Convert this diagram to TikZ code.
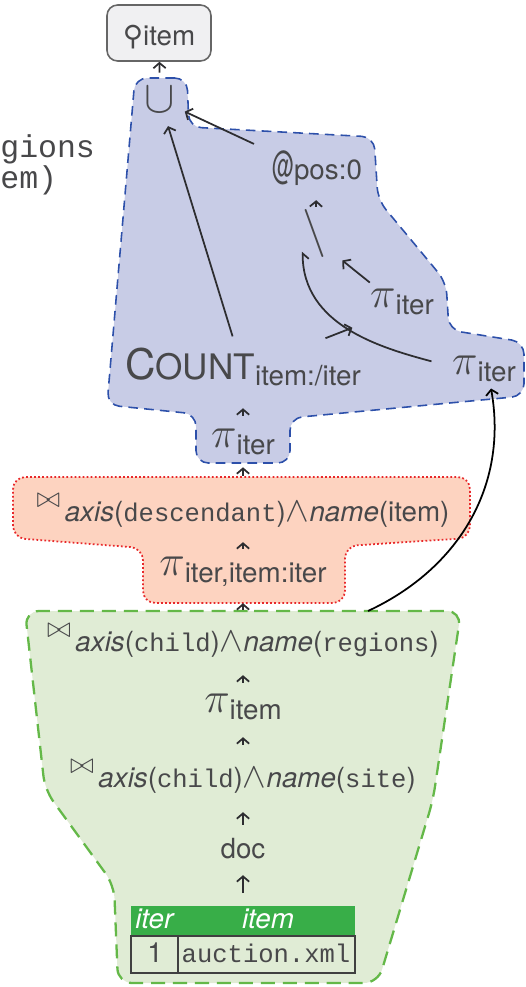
\documentclass[tikz,border=0pt]{standalone}
\usepackage{fontspec}
\setmainfont{TeX Gyre Heros}
\setmonofont{Liberation Mono}[Scale=0.92]
\newfontfamily\symfont{DejaVu Sans}
\usetikzlibrary{arrows.meta}
\definecolor{txtgray}{RGB}{72,72,74}
\definecolor{arrgray}{RGB}{45,45,48}
\definecolor{bluefill}{RGB}{200,204,230}
\definecolor{blueline}{RGB}{45,80,170}
\definecolor{redfill}{RGB}{253,211,192}
\definecolor{redline}{RGB}{232,40,42}
\definecolor{greenfill}{RGB}{224,236,213}
\definecolor{greenline}{RGB}{100,184,72}
\definecolor{tabgreen}{RGB}{56,174,72}
\definecolor{boxfill}{RGB}{240,240,242}

\newcommand{\proj}[1]{\raisebox{4pt}{\scalebox{1.7}{$\pi$}}#1}
\newcommand{\bowjoin}{\raisebox{8.5pt}{\scalebox{1.15}{$\bowtie$}}\,}
\newcommand{\band}{\scalebox{1.4}{$\wedge$}}
\newcommand{\serial}{{\symfont ⚲}}

\begin{document}
\begin{tikzpicture}[x=0.02cm, y=0.02cm,
	every node/.style={text=txtgray, font=\fontsize{15.8}{18}\selectfont,
		inner sep=0pt, text height=11pt, text depth=3.5pt},
	arr/.style={-{Straight Barb[length=3pt, width=7pt]}, line width=1pt, draw=arrgray},
	serbox/.style={draw=black!60, fill=boxfill, rounded corners=6pt, line width=0.9pt,
		minimum width=2.08cm, minimum height=1.12cm, text height=14pt, text depth=0pt}]
	\useasboundingbox (0,0) rectangle (525,-987);

	% regions
	\draw[blueline, fill=bluefill, line width=0.9pt, dash pattern=on 5.5pt off 3.5pt, rounded corners=7pt]
		(160,-78) -- (187,-78) -- (189,-127) -- (374,-137) -- (378,-200) -- (446,-282)
		-- (449,-330) -- (524,-342) -- (524,-396) -- (290,-418) -- (290,-463) -- (196,-463)
		-- (196,-414) -- (107,-405) -- (135,-78) -- cycle;
	\draw[redline, fill=redfill, line width=1pt, dash pattern=on 1pt off 1.3pt, rounded corners=7pt]
		(240,-477) -- (470,-477) -- (470,-538) -- (345,-546) -- (345,-603) -- (143,-603)
		-- (143,-548) -- (13,-538) -- (13,-477) -- cycle;
	\draw[greenline, fill=greenfill, line width=1.3pt, dash pattern=on 8pt off 4.5pt, rounded corners=8pt]
		(240,-611) -- (461,-611) -- (433,-800) -- (378,-983) -- (118,-983) -- (114,-885)
		-- (45,-790) -- (25,-611) -- cycle;

	% stray text on the left
	\node[anchor=base west, font=\fontsize{19.5}{20}\ttfamily] (lt1) at (0,-157) {gions};
	\node[anchor=base west, font=\fontsize{19.5}{20}\ttfamily] (lt2) at (0,-188) {em)};

	% blue part
	\node[serbox] (ser) at (159,-33) {\serial item};
	\node[circle, minimum size=1.08cm, text height=, text depth=] (cup) at (160,-100) {\scalebox{1.8}{$\cup$}};
	\node (attach) at (317,-173.4) {\raisebox{0.5pt}{\scalebox{0.95}[1.7]{\fontsize{13}{13}\selectfont @}}pos:0};
	\node (diff) at (315,-238.5) {\scalebox{1.9}{$\setminus$}};
	\node (mpi) at (402,-308.4) {\proj{iter}};
	\node (rpi) at (484,-375.4) {\proj{iter}};
	\node[text height=16pt, text depth=5pt] (count) at (243,-370.3)
		{{\fontsize{24}{24}\selectfont C}{\fontsize{20}{20}\selectfont OUNT}\raisebox{-3pt}{item:/iter}};
	\node (bpi) at (243,-448.4) {\proj{iter}};

	% red part
	\node (djoin) at (243,-515.4) {\bowjoin\textit{axis}(\texttt{descendant})\band\textit{name}(item)};
	\node (rpi2) at (243,-576.4) {\proj{iter,item:iter}};

	% green part
	\node (cjoin) at (243,-645.4) {\bowjoin\textit{axis}(\texttt{child})\band\textit{name}(\texttt{regions})};
	\node (ipi) at (243,-713.4) {\proj{item}};
	\node (sjoin) at (243,-781.4) {\bowjoin\textit{axis}(\texttt{child})\band\textit{name}(\texttt{site})};
	\node (doc) at (243,-851.4) {doc};

	% table
	\fill[tabgreen] (131,-906) rectangle (355,-936);
	\draw[black!75, line width=1.2pt] (131,-936) rectangle (355,-973) (178,-936) -- (178,-973);
	\node[anchor=base, text=white] (hiter) at (155,-928) {\textit{iter}};
	\node[anchor=base, text=white] (hitem) at (268,-928) {\textit{item}};
	\node[anchor=base] (v1) at (155,-962) {1};
	\node[anchor=base] (vdoc) at (266,-962) {\texttt{auction.xml}};
	\coordinate (tab) at (243,-906);
	\coordinate (gtop) at (368,-611);

	% edges
	\draw[arr] (cup) -- (ser);
	\draw[arr, shorten <=22pt] (attach) -- (cup);
	\draw[arr, shorten <=9pt] (count) -- (cup);
	\draw[arr, shorten <=10.6pt, shorten >=7.8pt] (diff) -- (attach);
	\draw[arr, shorten <=11.6pt, shorten >=10.9pt] (mpi) -- (diff);
	\draw[arr, shorten <=20.9pt, shorten >=10.7pt] (count) -- (mpi);
	\draw[line width=1pt, draw=arrgray, -{Straight Barb[harpoon, swap, length=3pt, width=7pt]}, shorten <=12pt]
		(rpi) to[out=165, in=-90] (diff.south west);
	\draw[arr, shorten <=11.1pt, shorten >=10.9pt] (bpi) -- (count);
	\draw[arr, shorten <=15.1pt, shorten >=3.3pt] (djoin) -- (bpi);
	\draw[arr, shorten <=8.3pt, shorten >=7.8pt] (rpi2) -- (djoin);
	\draw[arr, shorten <=12.8pt, shorten >=7.8pt] (cjoin) -- (rpi2);
	\draw[arr, shorten <=10pt, shorten >=9.5pt] (ipi) -- (cjoin);
	\draw[arr, shorten <=13.4pt, shorten >=6.1pt] (sjoin) -- (ipi);
	\draw[arr, shorten <=7.7pt, shorten >=10.1pt] (doc) -- (sjoin);
	\draw[arr, shorten <=7.4pt, shorten >=6.1pt] (tab) -- (doc);
	\draw[arr, black] (gtop) to[out=25, in=-80] ([xshift=4pt]rpi.south);
\end{tikzpicture}
\end{document}
